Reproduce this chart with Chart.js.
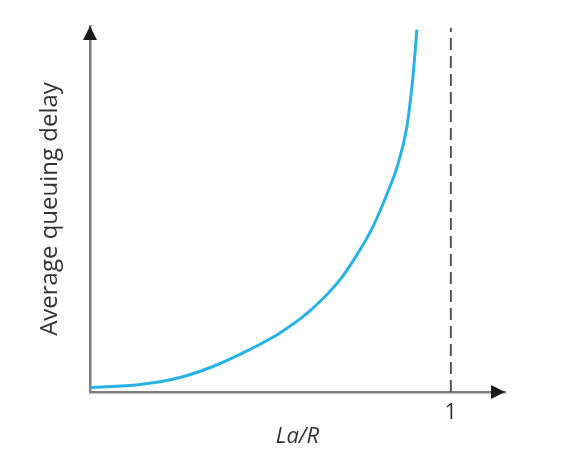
<!DOCTYPE html>
<html>
<head>
<meta charset="utf-8">
<script src="https://cdn.jsdelivr.net/npm/chart.js@4"></script>
<style>
  body { margin: 0; background: #fff; }
</style>
</head>
<body>
<canvas id="delayChart" width="563" height="468"></canvas>
<script>
// traffic intensity La/R and the delay
const loadRatio = [0, 0.1385, 0.2493, 0.3407, 0.4349, 0.5263, 0.6094, 0.6925, 0.7396, 0.7839, 0.8310, 0.8504, 0.8781, 0.8947, 0.9058];
const queuingDelay = [0.124, 0.207, 0.401, 0.704, 1.133, 1.63, 2.238, 3.094, 3.785, 4.558, 5.663, 6.188, 7.32, 8.674, 10.0];

// the vertical limit line at La/R = 1
const limitX = [1, 1];
const limitY = [0, 10.05];

const xTicks = [1];
const xLabel = 'La/R';
const yLabel = 'Average queuing delay';

const textColor = '#333';
const axisColor = '#7f7f7f';

// arrow heads on the end of both axes
const axisArrows = {
    id: 'axisArrows',
    afterDraw(chart) {
        const ctx = chart.ctx;
        const area = chart.chartArea;
        ctx.save();
        ctx.fillStyle = '#1b1b1b';
        ctx.beginPath();
        ctx.moveTo(area.left, area.top);
        ctx.lineTo(area.left - 7, area.top + 14);
        ctx.lineTo(area.left + 7, area.top + 14);
        ctx.closePath();
        ctx.fill();
        ctx.beginPath();
        ctx.moveTo(area.right, area.bottom);
        ctx.lineTo(area.right - 14, area.bottom - 7);
        ctx.lineTo(area.right - 14, area.bottom + 7);
        ctx.closePath();
        ctx.fill();
        ctx.restore();
    }
};

let ctx = document.getElementById('delayChart').getContext('2d');

new Chart(ctx, {
    type: 'line',
    data: {
        datasets: [{
            label: 'delay',
            data: loadRatio.map((x, i) => ({ x: x, y: queuingDelay[i] })),
            borderColor: '#29b2e6',
            borderWidth: 3,
            pointRadius: 0,
            fill: false,
            cubicInterpolationMode: 'monotone'
        }, {
            label: 'limit',
            data: limitX.map((x, i) => ({ x: x, y: limitY[i] })),
            borderColor: '#555',
            borderWidth: 2,
            borderDash: [12, 6],
            pointRadius: 0,
            fill: false
        }]
    },
    options: {
        responsive: false,
        animation: false,
        layout: { padding: { top: 26, right: 58, left: 0, bottom: 0 } },
        plugins: {
            legend: { display: false },
            tooltip: { enabled: false }
        },
        scales: {
            x: {
                type: 'linear',
                min: 0,
                max: 1.15,
                grid: { display: false, drawTicks: false },
                border: { display: true, color: axisColor, width: 2.5 },
                afterBuildTicks: (scale) => { scale.ticks = xTicks.map(v => ({ value: v })); },
                afterFit: (scale) => { scale.height = 76; },
                ticks: {
                    color: textColor,
                    padding: 8,
                    maxRotation: 0,
                    font: { family: 'Open Sans', size: 22 }
                },
                title: {
                    display: true,
                    text: xLabel,
                    color: textColor,
                    padding: { top: 0, bottom: 18 },
                    font: { family: 'Open Sans', size: 22, style: 'italic' }
                }
            },
            y: {
                type: 'linear',
                min: 0,
                max: 10.1,
                grid: { display: false, drawTicks: false },
                border: { display: true, color: axisColor, width: 2.5 },
                ticks: { display: false },
                afterFit: (scale) => { scale.width = 90; },
                title: {
                    display: true,
                    text: yLabel,
                    color: textColor,
                    padding: { top: 36, bottom: 0 },
                    font: { family: 'Open Sans', size: 24 }
                }
            }
        }
    },
    plugins: [axisArrows]
});
</script>
</body>
</html>
